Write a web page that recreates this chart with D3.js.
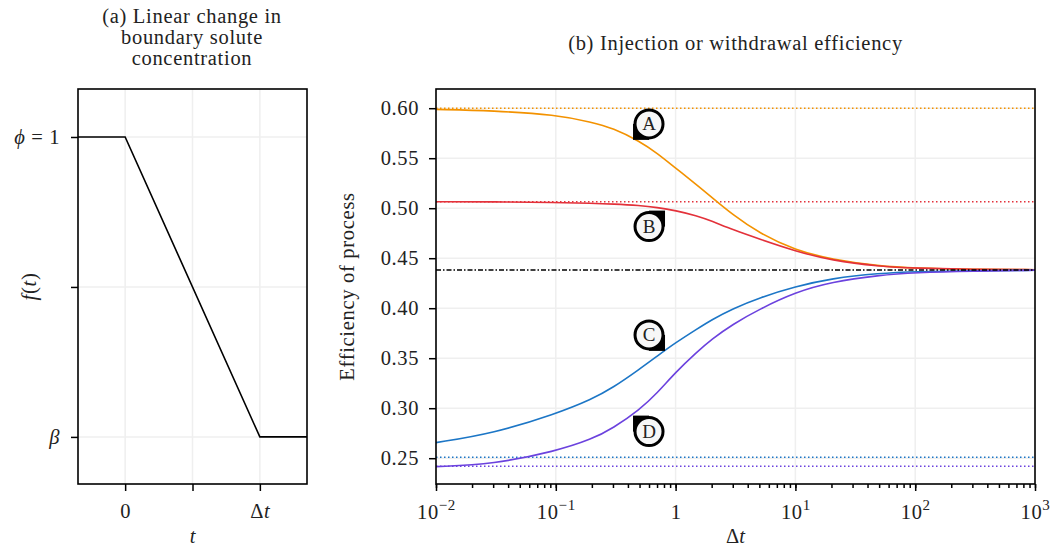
<html lang="en">
<head>
  <title>Efficiency of process</title>
  <meta charset="utf-8">
  <script src="https://d3js.org/d3.v7.min.js"></script>
  <style>
    body { margin: 0; background: #fff; }
    text { font-family: 'Liberation Serif', 'DejaVu Serif', serif; fill: #222; }
  </style>
</head>
<body>
  <svg id="canvas"></svg>
</body>

<script>

// ************************************************************************************** //
// Data

// (a) boundary solute concentration, t in units of dt, f in units between beta (0) and phi (1)
var ft_t = [-0.35, 0, 1, 1.35];
var ft_f = [1, 1, 0, 0];
var ft_xticks = [0, 0.5, 1], ft_xlabels = ['0', '', 'Δt'];
var ft_yticks = [0, 0.5, 1];

// (b) efficiency against Δt
var dt = [0.01, 0.03, 0.1, 0.2, 0.3, 0.5, 0.7, 1, 1.5, 2, 3, 5, 10, 20, 50, 100, 300, 1000];
var effA = [0.5988, 0.5975, 0.5935, 0.5860, 0.5800, 0.5670, 0.5550, 0.5400, 0.5235, 0.5110, 0.4935, 0.4750, 0.4580, 0.4488, 0.4421, 0.4400, 0.4389, 0.4385];
var effB = [0.5065, 0.5064, 0.5058, 0.5050, 0.5042, 0.5027, 0.5008, 0.4977, 0.4925, 0.4872, 0.4785, 0.4692, 0.4570, 0.4478, 0.4418, 0.4400, 0.4389, 0.4385];
var effC = [0.2656, 0.2748, 0.2943, 0.3090, 0.3205, 0.3390, 0.3520, 0.3655, 0.3790, 0.3885, 0.3995, 0.4105, 0.4216, 0.4298, 0.4350, 0.4366, 0.4375, 0.4379];
var effD = [0.2416, 0.2440, 0.2570, 0.2690, 0.2800, 0.2985, 0.3150, 0.3360, 0.3560, 0.3690, 0.3840, 0.3990, 0.4160, 0.4262, 0.4330, 0.4356, 0.4371, 0.4379];

var limits = [0.6000, 0.5065, 0.2510, 0.2420];   // dotted limits for A, B, C, D
var asymptote = 0.4382;
var colors = ['#f39200', '#e3313a', '#1c76c6', '#6b42de'];

var labels = ['A', 'B', 'C', 'D'];
var label_dt = [0.6, 0.6, 0.6, 0.6];
var label_eff = [0.5843, 0.4816, 0.3733, 0.2766];
var label_corner = [[-1, 1], [1, -1], [1, 1], [-1, -1]];

var eff_yticks = [0.25, 0.30, 0.35, 0.40, 0.45, 0.50, 0.55, 0.60];
var eff_xticks = [1e-2, 1e-1, 1, 1e1, 1e2, 1e3];

// ************************************************************************************** //
// Setup

var W = 1055, H = 549;
var svg = d3.select('#canvas').attr('width', W).attr('height', H);

var gridColor = '#efefef', fs = 20.5, ls = '0.7px';

function styleAxis(g){
  g.select('.domain').remove();
  g.selectAll('.tick line').attr('stroke', '#000').attr('stroke-width', 1.5);
  g.selectAll('.tick text').attr('font-size', fs).style('font-family', "'Liberation Serif', serif")
    .style('letter-spacing', '0.6px').attr('fill', '#222');
}

// ************************************************************************************** //
// (a) Linear change

var pa = { l: 78, r: 307, t: 89, b: 484 };
var xa = d3.scaleLinear().domain([-0.35, 1.35]).range([pa.l, pa.r]);
var ya = d3.scaleLinear().domain([-0.157, 1.16]).range([pa.b, pa.t]);

var ga = svg.append('g');
ga.selectAll('.vgrid').data(ft_xticks).enter().append('line')
  .attr('x1', d => xa(d)).attr('x2', d => xa(d)).attr('y1', pa.t).attr('y2', pa.b)
  .attr('stroke', gridColor).attr('stroke-width', 1.5);
ga.selectAll('.hgrid').data(ft_yticks).enter().append('line')
  .attr('x1', pa.l).attr('x2', pa.r).attr('y1', d => ya(d)).attr('y2', d => ya(d))
  .attr('stroke', gridColor).attr('stroke-width', 1.5);

ga.append('path').datum(d3.zip(ft_t, ft_f))
  .attr('d', d3.line().x(d => xa(d[0])).y(d => ya(d[1])))
  .attr('fill', 'none').attr('stroke', '#000').attr('stroke-width', 1.6);

ga.append('g').attr('transform', 'translate(0,' + pa.b + ')')
  .call(d3.axisBottom(xa).tickValues(ft_xticks).tickSize(7).tickPadding(12).tickFormat((d, i) => ''))
  .call(styleAxis)
  .selectAll('.tick text').each(function(d, i){
    var t = d3.select(this);
    if(ft_xlabels[i] == 'Δt'){ t.append('tspan').text('Δ'); t.append('tspan').attr('font-style', 'italic').text('t'); }
    else t.text(ft_xlabels[i]);
  });

var ya_axis = ga.append('g').attr('transform', 'translate(' + pa.l + ',0)')
  .call(d3.axisLeft(ya).tickValues(ft_yticks).tickSize(7).tickPadding(11).tickFormat(d => ''))
  .call(styleAxis);
ya_axis.selectAll('.tick text').each(function(d){
  var t = d3.select(this);
  if(d == 1){ t.append('tspan').attr('font-style', 'italic').text('ϕ'); t.append('tspan').text(' = 1'); }
  if(d == 0){ t.append('tspan').attr('font-style', 'italic').text('β'); }
});

ga.append('rect').attr('x', pa.l).attr('y', pa.t).attr('width', pa.r - pa.l).attr('height', pa.b - pa.t)
  .attr('fill', 'none').attr('stroke', '#000').attr('stroke-width', 1.6);

ga.append('text').attr('x', (pa.l + pa.r) / 2).attr('y', 543).attr('text-anchor', 'middle')
  .attr('font-size', fs).attr('font-style', 'italic').text('t');
var fl = ga.append('text').attr('transform', 'translate(36,' + ((pa.t + pa.b) / 2) + ') rotate(-90)')
  .attr('text-anchor', 'middle').attr('font-size', fs).style('letter-spacing', ls);
fl.append('tspan').attr('font-style', 'italic').text('f');
fl.append('tspan').text('(');
fl.append('tspan').attr('font-style', 'italic').text('t');
fl.append('tspan').text(')');

['(a) Linear change in', 'boundary solute', 'concentration'].forEach((s, i) => {
  ga.append('text').attr('x', 192).attr('y', 23 + i * 21).attr('text-anchor', 'middle')
    .attr('font-size', fs).style('letter-spacing', ls).text(s);
});

// ************************************************************************************** //
// (b) Efficiency

var pb = { l: 436, r: 1035, t: 89, b: 484 };
var xb = d3.scaleLog().domain([1e-2, 1e3]).range([pb.l, pb.r]);
var yb = d3.scaleLinear().domain([0.2242, 0.6192]).range([pb.b, pb.t]);

var gb = svg.append('g');
gb.selectAll('.vgrid').data(eff_xticks).enter().append('line')
  .attr('x1', d => xb(d)).attr('x2', d => xb(d)).attr('y1', pb.t).attr('y2', pb.b)
  .attr('stroke', gridColor).attr('stroke-width', 1.5);
gb.selectAll('.hgrid').data(eff_yticks).enter().append('line')
  .attr('x1', pb.l).attr('x2', pb.r).attr('y1', d => yb(d)).attr('y2', d => yb(d))
  .attr('stroke', gridColor).attr('stroke-width', 1.5);

// limits
gb.selectAll('.limit').data(limits).enter().append('line')
  .attr('x1', pb.l).attr('x2', pb.r).attr('y1', d => yb(d)).attr('y2', d => yb(d))
  .attr('stroke', (d, i) => colors[i]).attr('stroke-width', 1.5).attr('stroke-dasharray', '1.5,2.5');

// curves
var lineB = d3.line().x(d => xb(d[0])).y(d => yb(d[1])).curve(d3.curveBasis);
[effA, effB, effC, effD].forEach((s, i) => {
  gb.append('path').datum(d3.zip(dt, s)).attr('d', lineB)
    .attr('fill', 'none').attr('stroke', colors[i]).attr('stroke-width', 1.6);
});

gb.append('line').attr('x1', pb.l).attr('x2', pb.r).attr('y1', yb(asymptote)).attr('y2', yb(asymptote))
  .attr('stroke', '#000').attr('stroke-width', 1.5).attr('stroke-dasharray', '5,2,1.5,2');

// markers
labels.forEach((s, i) => {
  var cx = xb(label_dt[i]), cy = yb(label_eff[i]), c = label_corner[i], r = 14, q = 16;
  var m = gb.append('g');
  m.append('rect').attr('x', Math.min(cx, cx + c[0] * q)).attr('y', Math.min(cy, cy + c[1] * q))
    .attr('width', q).attr('height', q).attr('fill', '#000');
  m.append('circle').attr('cx', cx).attr('cy', cy).attr('r', r)
    .attr('fill', '#f7f7f7').attr('stroke', '#000').attr('stroke-width', 3);
  m.append('text').attr('x', cx).attr('y', cy + 6.5).attr('text-anchor', 'middle')
    .attr('font-size', 19).text(s);
});

// axes
gb.append('g').attr('transform', 'translate(0,' + pb.b + ')')
  .call(d3.axisBottom(xb).tickValues(xb.ticks()).tickSize(4).tickFormat(''))
  .call(styleAxis);
gb.append('g').attr('transform', 'translate(0,' + pb.b + ')')
  .call(d3.axisBottom(xb).tickValues(eff_xticks).tickSize(7).tickPadding(13).tickFormat(''))
  .call(styleAxis)
  .selectAll('.tick text').each(function(d){
    var t = d3.select(this), e = Math.round(Math.log10(d));
    if(e == 0){ t.text('1'); return; }
    t.append('tspan').text('10');
    t.append('tspan').attr('dy', -9).attr('font-size', 15).text(e < 0 ? '−' + Math.abs(e) : e);
  });

gb.append('g').attr('transform', 'translate(' + pb.l + ',0)')
  .call(d3.axisLeft(yb).tickValues(eff_yticks).tickSize(7).tickPadding(10).tickFormat(d3.format('.2f')))
  .call(styleAxis);

gb.append('rect').attr('x', pb.l).attr('y', pb.t).attr('width', pb.r - pb.l).attr('height', pb.b - pb.t)
  .attr('fill', 'none').attr('stroke', '#000').attr('stroke-width', 1.6);

var xl = gb.append('text').attr('x', (pb.l + pb.r) / 2).attr('y', 543).attr('text-anchor', 'middle').attr('font-size', fs);
xl.append('tspan').text('Δ');
xl.append('tspan').attr('font-style', 'italic').text('t');

gb.append('text').attr('transform', 'translate(354,' + ((pb.t + pb.b) / 2) + ') rotate(-90)')
  .attr('text-anchor', 'middle').attr('font-size', fs).style('letter-spacing', ls).text('Efficiency of process');

gb.append('text').attr('x', (pb.l + pb.r) / 2).attr('y', 50).attr('text-anchor', 'middle')
  .attr('font-size', fs).style('letter-spacing', ls).text('(b) Injection or withdrawal efficiency');

</script>
</html>
